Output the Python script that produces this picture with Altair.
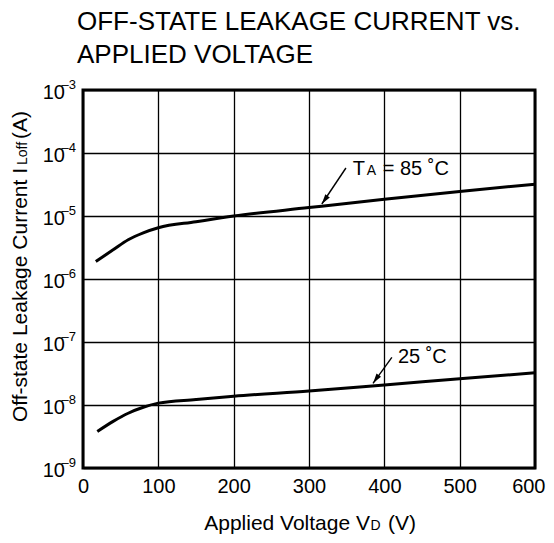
import altair as alt
import pandas as pd

FONT = "Liberation Sans"

# ---- data ----
voltage_85 = [17, 40, 60, 80, 100, 150, 200, 300, 400, 500, 600]
current_85 = [1.9e-6, 2.9e-6, 4.2e-6, 5.4e-6, 6.5e-6, 8.1e-6, 1.0e-5, 1.36e-5, 1.84e-5, 2.45e-5, 3.2e-5]
voltage_25 = [19, 40, 60, 80, 100, 150, 200, 300, 400, 500, 600]
current_25 = [3.8e-9, 5.5e-9, 7.4e-9, 9.2e-9, 1.07e-8, 1.22e-8, 1.38e-8, 1.67e-8, 2.08e-8, 2.6e-8, 3.24e-8]

x_ticks = [0, 100, 200, 300, 400, 500, 600]
y_tick_values = [1e-9, 1e-8, 1e-7, 1e-6, 1e-5, 1e-4, 1e-3]
y_tick_base = ["10"] * 7
y_tick_exponents = ["–9", "–8", "–7", "–6", "–5", "–4", "–3"]

title_lines = ["OFF-STATE LEAKAGE CURRENT vs.", "APPLIED VOLTAGE"]

# annotation anchors (data units)
label85_at = (358, 4.48e-5)
label25_at = (418, 4.59e-8)
arrow85 = (349, 5.78e-5, 317, 1.55e-5)
arrow25 = (410, 5.71e-8, 385, 2.21e-8)

# ---- tables ----
curves = pd.DataFrame({
    "V": voltage_85 + voltage_25,
    "I": current_85 + current_25,
    "series": ["85"] * len(voltage_85) + ["25"] * len(voltage_25),
})
yticks = pd.DataFrame({"I": y_tick_values, "base": y_tick_base, "exp": y_tick_exponents})
one = pd.DataFrame({"k": [0]})

xs = alt.Scale(domain=[0, 600], nice=False, zero=False)
ys = alt.Scale(type="log", domain=[1e-9, 1e-3], nice=False)

grid_kw = dict(grid=True, gridColor="black", gridWidth=1.3, gridOpacity=1,
               domain=False, ticks=False, title=None)

last_tick = "datum.value == 600"
lines = alt.Chart(curves).mark_line(
    interpolate="monotone", color="black", strokeWidth=3
).encode(
    x=alt.X("V:Q", scale=xs, axis=alt.Axis(
        values=x_ticks, labelFont=FONT, labelFontSize=20, labelColor="black", labelPadding=8,
        labelFlush=False, labelOverlap=False,
        labelAlign={"condition": {"test": last_tick, "value": "right"}, "value": "center"},
        labelOffset={"condition": {"test": last_tick, "value": 10}, "value": 0},
        **grid_kw)),
    y=alt.Y("I:Q", scale=ys, axis=alt.Axis(values=y_tick_values, labels=False, **grid_kw)),
    detail="series:N",
)

ybase = alt.Chart(yticks).mark_text(
    align="right", baseline="alphabetic", font=FONT, fontSize=20, color="black", dy=9
).encode(x=alt.value(-18), y=alt.Y("I:Q", scale=ys), text="base:N")

yexp = alt.Chart(yticks).mark_text(
    align="right", baseline="alphabetic", font=FONT, fontSize=13, color="black", dy=-1
).encode(x=alt.value(-7), y=alt.Y("I:Q", scale=ys), text="exp:N")


def px_text(text, x, y, size, align="left", angle=None):
    kw = dict(text=text, align=align, baseline="alphabetic", font=FONT, fontSize=size, color="black")
    if angle is not None:
        kw["angle"] = angle
    return alt.Chart(one).mark_text(**kw).encode(x=alt.value(x), y=alt.value(y))


def data_text(text, pos, size, dx=0):
    d = pd.DataFrame({"V": [pos[0]], "I": [pos[1]]})
    return alt.Chart(d).mark_text(
        text=text, align="left", baseline="alphabetic", font=FONT, fontSize=size, color="black", dx=dx
    ).encode(x=alt.X("V:Q", scale=xs), y=alt.Y("I:Q", scale=ys))


def arrow(a):
    d = pd.DataFrame({"V": [a[0]], "I": [a[1]], "V2": [a[2]], "I2": [a[3]]})
    shaft = alt.Chart(d).mark_rule(color="black", strokeWidth=1.4).encode(
        x=alt.X("V:Q", scale=xs), y=alt.Y("I:Q", scale=ys), x2="V2:Q", y2="I2:Q")
    head = alt.Chart(d).mark_point(
        shape="M0,0L0.55,2L-0.55,2Z", filled=True, size=100, angle=215,
        color="black", opacity=1, strokeWidth=0
    ).encode(x=alt.X("V2:Q", scale=xs), y=alt.Y("I2:Q", scale=ys))
    return shaft + head


layers = [
    lines, ybase, yexp,
    data_text("T", label85_at, 20),
    data_text("A", label85_at, 14, dx=14),
    data_text("= 85 ˚C", label85_at, 20, dx=30),
    data_text("25 ˚C", label25_at, 20),
    arrow(arrow85), arrow(arrow25),
    # title
    px_text(title_lines[0], -6, -60, 26),
    px_text(title_lines[1], -6, -27, 26),
    # x axis title
    px_text("Applied Voltage  V", 287, 440, 21, align="right"),
    px_text("D", 287.5, 440, 14),
    px_text("(V)", 305, 440, 21),
    # y axis title
    px_text("Off-state Leakage Current  I", -56, 78, 21, align="right", angle=270),
    px_text("Loff", -56, 75, 14, angle=270),
    px_text("(A)", -56, 49, 21, angle=270),
]

chart = alt.layer(*layers).properties(
    width=452, height=378,
    autosize=alt.AutoSizeParams(type="none"),
    padding={"left": 75, "top": 82, "right": 11, "bottom": 67},
).configure_view(stroke="black", strokeWidth=3)

chart.save("out.html", embed_options={"renderer": "svg", "actions": False})
